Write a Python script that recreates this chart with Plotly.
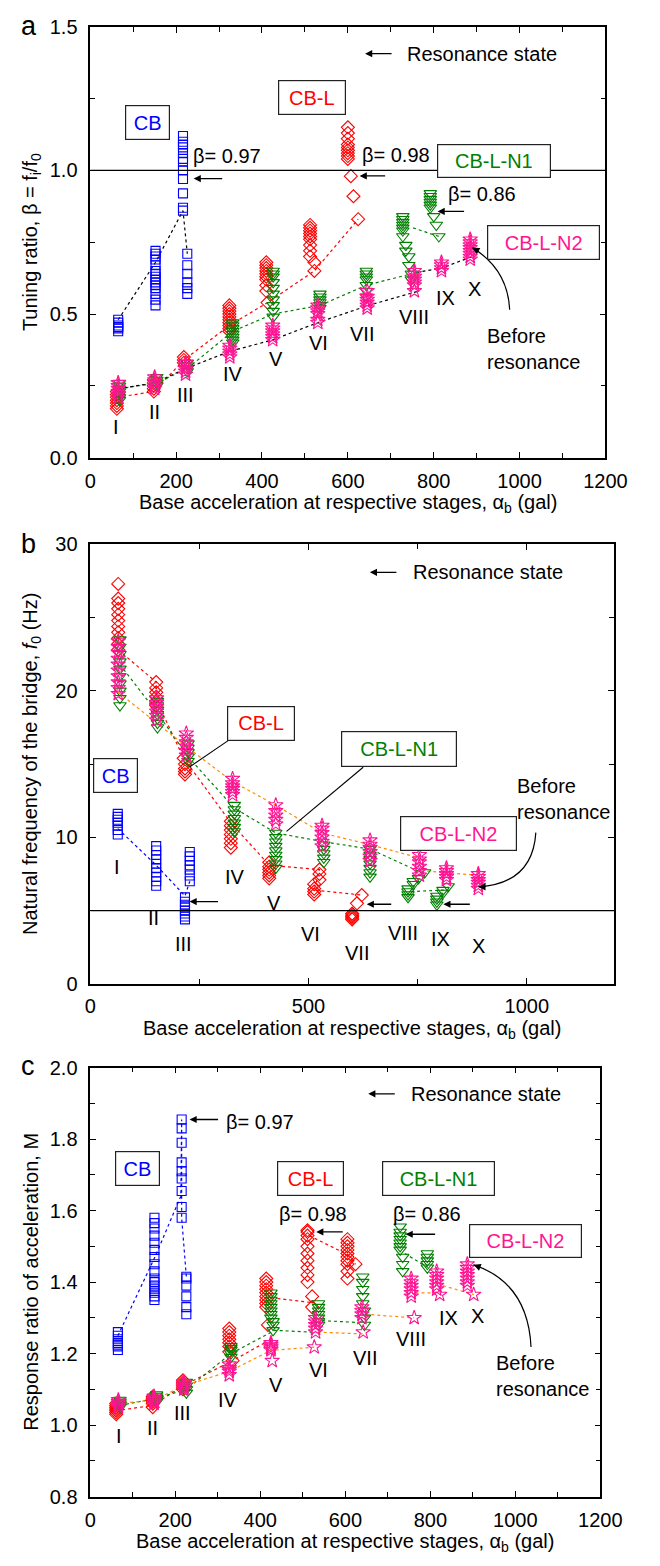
import plotly.graph_objects as go

W, H = 660, 1566
FONT = "Liberation Sans, Arial, sans-serif"

BLUE, RED, GREEN, PINK, ORANGE = "#0000FF", "#FF0000", "#008000", "#FF1493", "#FF8C00"

# ---------------- Panel a : tuning ratio beta ----------------
A_CB = [(65, [0.44, 0.45, 0.455, 0.46, 0.47, 0.48]),
        (152, [0.53, 0.55, 0.57, 0.59, 0.60, 0.61, 0.62, 0.63, 0.64, 0.65, 0.67, 0.69, 0.70, 0.71, 0.72]),
        (216, [0.86, 0.87, 0.92, 0.97, 1.00, 1.03, 1.04, 1.06, 1.08, 1.09, 1.10, 1.12]),
        (226, [0.57, 0.59, 0.61, 0.64, 0.67, 0.71])]
A_CB_LX = [65, 152, 216, 226]
A_CB_LY = [0.48, 0.68, 0.86, 0.71]

A_CBL = [(62, [0.17, 0.18, 0.19, 0.20, 0.21, 0.22, 0.23]),
         (148, [0.23, 0.24, 0.25, 0.26, 0.27]),
         (218, [0.33, 0.34, 0.35]),
         (324, [0.44, 0.45, 0.46, 0.47, 0.48, 0.49, 0.50, 0.51, 0.52, 0.53]),
         (410, [0.58, 0.60, 0.62, 0.63, 0.64, 0.65, 0.66, 0.67, 0.68]),
         (413, [0.54]),
         (512, [0.70, 0.72, 0.74, 0.76, 0.77, 0.78, 0.79, 0.80, 0.81]),
         (522, [0.65, 0.68]),
         (600, [1.04, 1.05, 1.06, 1.07, 1.08, 1.09, 1.11, 1.13, 1.15]),
         (607, [0.98]), (613, [0.91]), (624, [0.83])]
A_CBL_LX = [62, 148, 218, 324, 413, 522, 624]
A_CBL_LY = [0.21, 0.23, 0.34, 0.46, 0.54, 0.65, 0.83]

A_N1 = [(68, [0.20, 0.21, 0.22, 0.23, 0.24, 0.25, 0.26]),
        (155, [0.25, 0.26, 0.27, 0.28]),
        (226, [0.30, 0.31, 0.32, 0.33]),
        (332, [0.40, 0.41, 0.42, 0.43, 0.44, 0.45, 0.46, 0.47]),
        (426, [0.49, 0.51, 0.53, 0.55, 0.57, 0.59, 0.61, 0.63, 0.64, 0.65]),
        (535, [0.52, 0.53, 0.54, 0.55, 0.56, 0.57]),
        (643, [0.56, 0.58, 0.60, 0.62, 0.63, 0.64, 0.65]),
        (728, [0.77, 0.79, 0.80, 0.81, 0.82, 0.83, 0.84]),
        (735, [0.72, 0.74]), (742, [0.67, 0.70]), (748, [0.62, 0.64]),
        (792, [0.87, 0.88, 0.89, 0.90, 0.91, 0.92]),
        (800, [0.84]), (806, [0.81]), (812, [0.77])]
A_N1_LX = [68, 155, 226, 332, 426, 535, 643, 748, None, 752, 812]
A_N1_LY = [0.24, 0.26, 0.31, 0.44, 0.50, 0.53, 0.60, 0.64, None, 0.80, 0.77]

A_N2 = [(65, [0.21, 0.22, 0.23, 0.24, 0.25, 0.26]),
        (150, [0.24, 0.25, 0.26, 0.27, 0.28]),
        (222, [0.29, 0.30, 0.31, 0.32, 0.33]),
        (325, [0.35, 0.36, 0.37, 0.38, 0.39]),
        (425, [0.41, 0.42, 0.43, 0.44, 0.45, 0.46]),
        (530, [0.47, 0.48, 0.50, 0.51, 0.52, 0.53]),
        (645, [0.52, 0.53, 0.54, 0.55, 0.56, 0.58]),
        (755, [0.58, 0.60, 0.61, 0.62, 0.63, 0.64, 0.65]),
        (818, [0.65, 0.66, 0.67, 0.68]),
        (885, [0.69, 0.70, 0.71, 0.72, 0.73, 0.74, 0.75, 0.76])]
A_N2_LX = [65, 150, 222, 325, 425, 530, 648, 765, None, 760, 818, 890]
A_N2_LY = [0.24, 0.26, 0.31, 0.37, 0.41, 0.47, 0.53, 0.58, None, 0.645, 0.66, 0.70]

# ---------------- Panel b : natural frequency f0 (Hz) ----------------
B_CB = [(63, [10.2, 10.5, 10.8, 11.0, 11.2, 11.4, 11.6]),
        (151, [6.7, 7.0, 7.3, 7.6, 7.9, 8.2, 8.5, 8.8, 9.1, 9.4]),
        (217, [4.4, 4.6, 4.8, 5.0, 5.2, 5.4, 5.6, 5.9]),
        (228, [7.0, 7.4, 7.8, 8.1, 8.4, 8.7, 9.0])]
B_CB_LX = [63, 151, 217, 228]
B_CB_LY = [10.6, 8.1, 6.0, 7.0]

B_CBL = [(64, [22.8, 23.2, 23.6, 24.0, 24.4, 24.8, 25.2, 25.6, 26.0, 26.3, 27.3]),
         (151, [19.0, 19.3, 19.6, 19.9, 20.2, 20.6]),
         (217, [14.3, 14.5, 14.7, 15.0]), (214, [15.4]),
         (322, [9.3, 9.6, 9.9, 10.2, 10.5, 10.8, 11.1]),
         (410, [7.2, 7.4, 7.6, 7.8, 8.0, 8.3]),
         (513, [6.1, 6.3, 6.5, 6.8]), (525, [7.1, 7.5, 7.8]),
         (600, [4.4, 4.5, 4.6, 4.7, 4.8]), (611, [5.5]), (622, [6.06])]
B_CBL_LX = [64, 151, 151, 214, 322, 410, 525, 513, 622]
B_CBL_LY = [22.8, 20.6, 19.4, 15.4, 11.0, 8.1, 7.8, 6.4, 6.06]

B_N1 = [(68, [19.0, 19.5, 20.0, 20.5, 21.0, 21.5, 22.0, 22.5, 23.0, 23.5]),
        (154, [17.5, 17.8, 18.1, 18.4, 18.7, 19.0, 19.3]),
        (224, [15.2, 15.5, 15.8, 16.1, 16.4]),
        (330, [10.4, 10.7, 11.0, 11.3, 11.6, 11.9, 12.2]),
        (425, [7.9, 8.2, 8.5, 8.8, 9.1, 9.4, 9.7, 10.0, 10.3]),
        (535, [8.3, 8.6, 8.9, 9.2, 9.5]),
        (641, [7.3, 7.6, 7.9, 8.2, 8.5, 8.8, 9.2]),
        (728, [5.9, 6.1, 6.3, 6.5]), (740, [6.8, 7.0]), (752, [7.2]), (766, [7.6]),
        (794, [5.4, 5.6, 5.8, 6.0]), (808, [6.2, 6.4]), (820, [6.65])]
B_N1_LX = [68, 156, 224, 330, 425, 535, 641, 766, None, 735, 810]
B_N1_LY = [21.8, 18.4, 15.5, 12.0, 10.3, 9.7, 9.2, 7.5, None, 6.3, 6.4]

B_N2 = [(64, [19.8, 20.2, 20.6, 21.0, 21.4, 21.8, 22.2, 22.6, 23.0, 23.4]),
        (152, [18.0, 18.3, 18.6, 18.9, 19.2, 19.5]),
        (220, [15.6, 15.9, 16.2, 16.5, 16.8, 17.1]),
        (326, [12.9, 13.1, 13.3, 13.5, 13.7, 14.0]),
        (425, [10.9, 11.2, 11.5, 11.8, 12.2]),
        (531, [9.4, 9.7, 10.0, 10.3, 10.6, 10.8]),
        (641, [8.4, 8.7, 9.0, 9.3, 9.5, 9.8]),
        (754, [7.4, 7.7, 8.0, 8.3, 8.5, 8.8]),
        (816, [7.1, 7.3, 7.5, 7.7, 7.9]),
        (889, [6.5, 6.7, 6.9, 7.1, 7.3, 7.5])]
B_N2_LX = [64, 152, 220, 326, 425, 531, 641, 754, None, 772, 816, 889]
B_N2_LY = [19.9, 17.8, 16.2, 13.8, 12.2, 10.3, 9.5, 8.6, None, 7.7, 7.6, 7.4]

# ---------------- Panel c : response ratio M ----------------
C_CB = [(65, [1.21, 1.22, 1.225, 1.23, 1.24, 1.25, 1.26]),
        (151, [1.35, 1.36, 1.37, 1.38, 1.39, 1.40, 1.41, 1.43, 1.45, 1.47, 1.49, 1.51, 1.53, 1.55, 1.565, 1.58]),
        (215, [1.58, 1.61, 1.655, 1.69, 1.71, 1.735, 1.79, 1.83, 1.855]),
        (226, [1.31, 1.33, 1.36, 1.39, 1.41, 1.415])]
C_CB_LX = [65, 152, 213, 215, 215, 226]
C_CB_LY = [1.25, 1.47, 1.64, 1.855, 1.58, 1.415]

C_CBL = [(61, [1.03, 1.035, 1.04, 1.045, 1.05, 1.055, 1.06]),
         (147, [1.05, 1.06, 1.065, 1.07, 1.075, 1.08]),
         (218, [1.10, 1.105, 1.11, 1.115, 1.12, 1.125]),
         (327, [1.205, 1.22, 1.23, 1.24, 1.25, 1.26, 1.27]), (335, [1.18]),
         (414, [1.33, 1.34, 1.35, 1.36, 1.37, 1.38, 1.39, 1.40, 1.41]), (418, [1.28]),
         (511, [1.40, 1.42, 1.44, 1.46, 1.48, 1.50, 1.52, 1.53, 1.54, 1.545]), (522, [1.36, 1.33]),
         (605, [1.41, 1.43, 1.45, 1.46, 1.47, 1.48, 1.49, 1.50, 1.51, 1.52]), (624, [1.45])]
C_CBL_LX = [61, 147, 218, 335, 410, None, 426, 520, None, 515, 600, 624]
C_CBL_LY = [1.04, 1.055, 1.11, 1.18, 1.23, None, 1.356, 1.343, None, 1.53, 1.48, 1.45]

C_N1 = [(70, [1.05, 1.055, 1.06, 1.065, 1.07]),
        (156, [1.065, 1.07, 1.075, 1.08, 1.085]),
        (226, [1.09, 1.10, 1.11, 1.12]),
        (331, [1.19, 1.20, 1.21, 1.215, 1.22]),
        (425, [1.30, 1.31, 1.32, 1.33, 1.34, 1.35, 1.36, 1.37]), (430, [1.265, 1.28, 1.29]),
        (537, [1.28, 1.29, 1.30, 1.31, 1.32, 1.33, 1.34]),
        (641, [1.34, 1.36, 1.38, 1.40, 1.415]), (645, [1.28, 1.30, 1.32]),
        (729, [1.49, 1.50, 1.51, 1.52, 1.53, 1.54, 1.555]), (735, [1.43, 1.45, 1.47]),
        (793, [1.44, 1.45, 1.46, 1.47, 1.48])]
C_N1_LX = [70, 156, 226, 331, 434, 520, None, 545, 631, None, 740, 795]
C_N1_LY = [1.055, 1.075, 1.10, 1.20, 1.265, 1.26, None, 1.292, 1.287, None, 1.48, 1.44]

C_N2 = [(66, [1.05, 1.055, 1.06, 1.065, 1.07]),
        (150, [1.06, 1.065, 1.07, 1.075, 1.08]),
        (220, [1.10, 1.105, 1.11, 1.115, 1.12]),
        (327, [1.14, 1.15, 1.155, 1.16, 1.17]),
        (425, [1.21, 1.215, 1.22, 1.225, 1.23]), (428, [1.18]),
        (530, [1.26, 1.27, 1.28, 1.29, 1.30]), (527, [1.218]),
        (639, [1.30, 1.31, 1.32, 1.33]), (642, [1.26]),
        (755, [1.36, 1.37, 1.38, 1.39, 1.40, 1.41]), (762, [1.30]),
        (815, [1.38, 1.39, 1.40, 1.41, 1.42, 1.43]), (822, [1.365]),
        (887, [1.39, 1.40, 1.41, 1.42, 1.43, 1.44, 1.45]), (902, [1.365])]
C_N2_LX = [66, 150, 220, 327, 425, 527, None, 535, 642, None, 647, 762, None, 765, 822, None, 830, 902]
C_N2_LY = [1.06, 1.07, 1.11, 1.15, 1.209, 1.218, None, 1.26, 1.255, None, 1.31, 1.30, None, 1.37, 1.37, None, 1.39, 1.365]

STAGES = ["I", "II", "III", "IV", "V", "VI", "VII", "VIII", "IX", "X"]


def expand(clusters):
    xs, ys = [], []
    for x, vals in clusters:
        for v in vals:
            xs.append(x)
            ys.append(v)
    return xs, ys


def px(x):
    return x / W


def py(y):
    return 1 - y / H


fig = go.Figure()

SYM = {"cb": ("square-open", 9), "cbl": ("diamond-open", 10),
       "n1": ("triangle-down-open", 11), "n2": ("star-open", 11)}
COL = {"cb": BLUE, "cbl": RED, "n1": GREEN, "n2": PINK}

panels = [
    ("x", "y", [("cb", A_CB, A_CB_LX, A_CB_LY, "black"),
                ("cbl", A_CBL, A_CBL_LX, A_CBL_LY, RED),
                ("n1", A_N1, A_N1_LX, A_N1_LY, GREEN),
                ("n2", A_N2, A_N2_LX, A_N2_LY, "black")]),
    ("x2", "y2", [("cb", B_CB, B_CB_LX, B_CB_LY, BLUE),
                  ("cbl", B_CBL, B_CBL_LX, B_CBL_LY, RED),
                  ("n1", B_N1, B_N1_LX, B_N1_LY, GREEN),
                  ("n2", B_N2, B_N2_LX, B_N2_LY, ORANGE)]),
    ("x3", "y3", [("cb", C_CB, C_CB_LX, C_CB_LY, BLUE),
                  ("cbl", C_CBL, C_CBL_LX, C_CBL_LY, RED),
                  ("n1", C_N1, C_N1_LX, C_N1_LY, GREEN),
                  ("n2", C_N2, C_N2_LX, C_N2_LY, ORANGE)]),
]

for xa, ya, series in panels:
    for key, clusters, lx, ly, lcol in series:
        fig.add_trace(go.Scatter(x=lx, y=ly, xaxis=xa, yaxis=ya, mode="lines",
                                 line=dict(color=lcol, width=1.2, dash="dot"),
                                 hoverinfo="skip", connectgaps=False))
    for key, clusters, lx, ly, lcol in series:
        xs, ys = expand(clusters)
        sym, size = SYM[key]
        fig.add_trace(go.Scatter(x=xs, y=ys, xaxis=xa, yaxis=ya, mode="markers",
                                 marker=dict(symbol=sym, size=size, color=COL[key],
                                             line=dict(width=1.1, color=COL[key])),
                                 hoverinfo="skip"))

axis_common = dict(showline=True, linecolor="black", linewidth=1.5, mirror="allticks",
                   ticks="inside", ticklen=6, tickwidth=1.2, tickcolor="black",
                   showgrid=False, zeroline=False,
                   tickfont=dict(family=FONT, size=20, color="black"))

XD = {"x": (88, 626), "x2": (88, 635), "x3": (88, 620.7)}
YD = {"y": (16, 453), "y2": (541, 986.7), "y3": (1071.7, 1506.7)}

layout = dict(width=W, height=H, margin=dict(l=0, r=0, t=0, b=0),
              paper_bgcolor="white", plot_bgcolor="white", showlegend=False,
              font=dict(family=FONT, size=20, color="black"))

xcfg = {"x": (200, 100, 5), "x2": (500, 250, 3), "x3": (200, 100, 5)}
ycfg = {"y": ([0, 1.5], 0.5, 0.25, ".1f"), "y2": ([0, 30], 10, 5, "d"),
        "y3": ([0.8, 2.0], 0.2, 0.1, ".1f")}
for (xa, ya) in [("x", "y"), ("x2", "y2"), ("x3", "y3")]:
    xname = "xaxis" + xa[1:]
    yname = "yaxis" + ya[1:]
    d, md, so = xcfg[xa]
    layout[xname] = dict(axis_common, range=[0, 1200], dtick=d, tick0=0,
                         domain=[px(XD[xa][0]), px(XD[xa][1])], anchor=ya,
                         ticklabelstandoff=so,
                         minor=dict(ticks="inside", ticklen=5, dtick=md, tick0=0,
                                    tickcolor="black", tickwidth=1.2, showgrid=False))
    rng, dt, mdt, fmt = ycfg[ya]
    layout[yname] = dict(axis_common, range=rng, dtick=dt, tick0=0, tickformat=fmt,
                         domain=[py(YD[ya][1]), py(YD[ya][0])], anchor=xa,
                         ticklabelstandoff=7,
                         minor=dict(ticks="inside", ticklen=5, dtick=mdt, tick0=0,
                                    tickcolor="black", tickwidth=1.2, showgrid=False))
fig.update_layout(**layout)

shapes = []
# horizontal reference lines
shapes.append(dict(type="line", xref="x", yref="y", x0=0, x1=1200, y0=1.0, y1=1.0,
                   line=dict(color="black", width=1.4)))
shapes.append(dict(type="line", xref="x2", yref="y2", x0=0, x1=1200, y0=5, y1=5,
                   line=dict(color="black", width=1.4)))
# leader lines panel b
for (x0, y0, x1, y1) in [(232, 740, 191.7, 766.7), (373, 767, 293, 832)]:
    shapes.append(dict(type="line", xref="paper", yref="paper",
                       x0=px(x0), y0=py(y0), x1=px(x1), y1=py(y1),
                       line=dict(color="black", width=1.1)))
# curved arrows ("Before resonance")
for (s, c, e) in [((526, 303), (524, 262), (487, 240)),
                  ((553.3, 833.3), (550, 885), (493.3, 888.3)),
                  ((548.3, 1355), (545, 1290), (488.3, 1271.7))]:
    path = "M {},{} Q {},{} {},{}".format(px(s[0]), py(s[1]), px(c[0]), py(c[1]),
                                           px(e[0]), py(e[1]))
    shapes.append(dict(type="path", xref="paper", yref="paper", path=path,
                       line=dict(color="black", width=1.2)))

ann = []


def text(x, y, t, color="black", size=20, xanchor="left", **kw):
    ann.append(dict(x=px(x), y=py(y), xref="paper", yref="paper", text=t, showarrow=False,
                    xanchor=xanchor, yanchor="middle",
                    font=dict(family=FONT, size=size, color=color), **kw))


def arrow(hx, hy, ax, ay=0):
    ann.append(dict(x=px(hx), y=py(hy), xref="paper", yref="paper", text="",
                    showarrow=True, ax=ax, ay=ay, arrowhead=2, arrowsize=1.1,
                    arrowwidth=1.3, arrowcolor="black"))


def box(cx, cy, w, h, t, color):
    ann.append(dict(x=px(cx), y=py(cy), xref="paper", yref="paper", text=t,
                    showarrow=False, xanchor="center", yanchor="middle",
                    width=w - 4, height=h - 4, borderpad=1, bordercolor="#222",
                    borderwidth=1.2, bgcolor="white", align="center",
                    font=dict(family=FONT, size=20, color=color)))


# panel letters
text(24, 15, "a", size=27, xanchor="center")
text(24, 541, "b", size=27, xanchor="center")
text(23, 1070, "c", size=27, xanchor="center")

# axis titles
XT = "Base acceleration at respective stages, α<sub>b</sub> (gal)"
text(357, 500, XT, xanchor="center")
text(361.5, 1033, XT, xanchor="center")
text(354.3, 1553, XT, xanchor="center")
ann.append(dict(x=px(26), y=py(234.5), xref="paper", yref="paper", showarrow=False,
                text="Tuning ratio, β = f<sub>i</sub>/f<sub>0</sub>", textangle=-90,
                xanchor="center", yanchor="middle", font=dict(family=FONT, size=20)))
ann.append(dict(x=px(26), y=py(763.8), xref="paper", yref="paper", showarrow=False,
                text="Natural frequency of the bridge, <i>f</i><sub>0</sub> (Hz)", textangle=-90,
                xanchor="center", yanchor="middle", font=dict(family=FONT, size=20)))
ann.append(dict(x=px(26), y=py(1289), xref="paper", yref="paper", showarrow=False,
                text="Response ratio of acceleration, M", textangle=-90,
                xanchor="center", yanchor="middle", font=dict(family=FONT, size=20)))

# resonance state legends
for (hx, hy, tx) in [(375, 43.3, 417), (380, 569.3, 422.7), (378.3, 1098.3, 420.7)]:
    arrow(hx, hy, 28)
    text(tx, hy, "Resonance state")

# beta labels and arrows
text(193.3, 146.7, "β= 0.97"); arrow(196, 170, 30)
text(369.3, 145.7, "β= 0.98"); arrow(369.3, 167.3, 27)
text(459.3, 185.7, "β= 0.86"); arrow(450.7, 203.3, 28)
arrow(191.7, 903.3, 30); arrow(376.7, 906, 26); arrow(456.7, 906, 28)
text(227.7, 1126.7, "β= 0.97"); arrow(191.7, 1124.3, 30)
text(282.7, 1220, "β= 0.98"); arrow(324, 1238.3, 28)
text(401.7, 1220, "β= 0.86"); arrow(417.3, 1240.7, 31)

# arrowheads for curved arrows
arrow(487, 240, 7, 4)
arrow(493.3, 888.3, 8, 0)
arrow(488.3, 1271.7, 8, 3)

# before resonance
text(500, 342.5, "Before<br>resonance", align="left")
text(532, 799.7, "Before<br>resonance", align="left")
text(510, 1384.5, "Before<br>resonance", align="left")

# boxes
box(147.5, 113.3, 45, 34.7, "CB", BLUE)
box(319.7, 87.5, 67.3, 35, "CB-L", RED)
box(509.3, 152, 113.3, 34, "CB-L-N1", GREEN)
box(561.5, 234.3, 113, 34.7, "CB-L-N2", PINK)
box(114.2, 775.8, 45, 35, "CB", BLUE)
box(266.2, 722.8, 67.7, 34.3, "CB-L", RED)
box(410.3, 748.7, 116, 36, "CB-L-N1", GREEN)
box(472.5, 834.2, 116.4, 35, "CB-L-N2", PINK)
box(137.8, 1174.2, 44.3, 35, "CB", BLUE)
box(317.7, 1184.2, 66.7, 35, "CB-L", RED)
box(451.3, 1184.2, 112.7, 35, "CB-L-N1", GREEN)
box(543, 1248, 112.6, 34, "CB-L-N2", PINK)

# stage labels (data coordinates)
A_LAB = [(60, 0.105), (150, 0.16), (222, 0.218), (333, 0.292), (433, 0.345),
         (531, 0.398), (633, 0.43), (755, 0.491), (827, 0.555), (895, 0.588)]
B_LAB = [(61, 7.97), (145, 4.49), (213, 2.69), (332, 7.3), (420, 5.5),
         (505, 3.37), (611, 2.13), (717, 3.48), (803, 3.03), (889, 2.58)]
C_LAB = [(68, 0.97), (147, 0.993), (218, 1.034), (324, 1.071), (436, 1.113),
         (536, 1.154), (647, 1.188), (755, 1.241), (842, 1.30), (912, 1.306)]
for labs, xr, yr in [(A_LAB, "x", "y"), (B_LAB, "x2", "y2"), (C_LAB, "x3", "y3")]:
    for s, (lx, ly) in zip(STAGES, labs):
        ann.append(dict(x=lx, y=ly, xref=xr, yref=yr, text=s, showarrow=False,
                        xanchor="center", yanchor="middle",
                        font=dict(family=FONT, size=20, color="black")))

fig.update_layout(shapes=shapes, annotations=ann)
fig.write_html("out.html")
